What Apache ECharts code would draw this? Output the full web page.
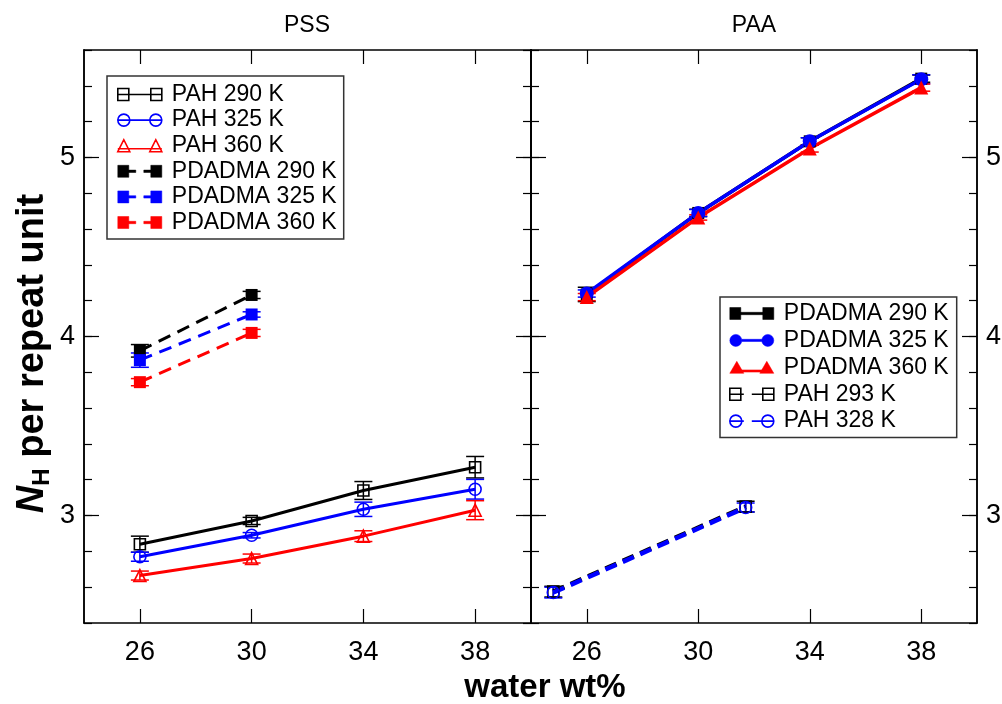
<!DOCTYPE html>
<html>
<head>
<meta charset="utf-8">
<title>NH per repeat unit</title>
<script src="https://cdn.jsdelivr.net/npm/echarts@6/dist/echarts.min.js"></script>
<style>
  html, body { margin: 0; padding: 0; background: #fff; }
  #chart { width: 1002px; height: 704px; }
</style>
</head>
<body>
<div id="chart"></div>
<script>
// PSS panel
var pssWater = [26, 30, 34, 38];
var pssWaterDadma = [26, 30];
var pssPah290 = [2.84, 2.97, 3.14, 3.27];
var pssPah290Err = [0.045, 0.02, 0.05, 0.06];
var pssPah325 = [2.77, 2.89, 3.035, 3.147];
var pssPah325Err = [0.025, 0.015, 0.04, 0.055];
var pssPah360 = [2.665, 2.76, 2.885, 3.03];
var pssPah360Err = [0.025, 0.025, 0.03, 0.053];
var pssDadma290 = [3.92, 4.232];
var pssDadma290Err = [0.035, 0.02];
var pssDadma325 = [3.868, 4.123];
var pssDadma325Err = [0.04, 0.015];
var pssDadma360 = [3.745, 4.02];
var pssDadma360Err = [0.02, 0.02];

// PAA panel
var paaWater = [26, 30, 34, 38];
var paaWaterPah = [24.8, 31.7];
var paaDadma290 = [4.235, 4.69, 5.09, 5.44];
var paaDadma290Err = [0.04, 0.02, 0.02, 0.02];
var paaDadma325 = [4.24, 4.69, 5.09, 5.437];
var paaDadma325Err = [0.02, 0.02, 0.02, 0.025];
var paaDadma360 = [4.22, 4.665, 5.05, 5.39];
var paaDadma360Err = [0.02, 0.015, 0.02, 0.02];
var paaPah293 = [2.575, 3.05];
var paaPah293Err = [0.03, 0.03];
var paaPah328 = [2.57, 3.045];
var paaPah328Err = [0.03, 0.025];

// axes
var xTicks = [26, 30, 34, 38];
var yTicks = [3, 4, 5];

var font = 'Liberation Sans, Arial, Helvetica, sans-serif';
var BLACK = '#000000', BLUE = '#0000ff', RED = '#ff0000';

function zip(xs, ys) {
  return xs.map(function (x, i) { return [x, ys[i]]; });
}

function xAxisFor(grid, pos, showLabel) {
  return {
    type: 'value', gridIndex: grid, position: pos, min: 24, max: 40,
    axisLine: { show: true, onZero: false, lineStyle: { color: '#000', width: 1.5 } },
    axisTick: { inside: true, length: 14, customValues: xTicks, lineStyle: { color: '#000', width: 1.2 } },
    axisLabel: { show: showLabel, customValues: xTicks, fontSize: 27, color: '#000', margin: 16, fontFamily: font },
    splitLine: { show: false }
  };
}

function yAxisFor(grid, pos, major, showLabel) {
  var ax = {
    type: 'value', gridIndex: grid, position: pos, min: 2.4, max: 5.6,
    axisLine: { show: true, onZero: false, lineStyle: { color: '#000', width: 1.5 } },
    axisTick: { inside: true, length: 8, lineStyle: { color: '#000', width: 1.2 } },
    axisLabel: { show: false },
    splitLine: { show: false }
  };
  if (major) {
    ax.axisTick.length = 15;
    ax.axisTick.customValues = yTicks;
    ax.axisLabel = { show: showLabel, customValues: yTicks, fontSize: 27, color: '#000', margin: 9, fontFamily: font };
  } else {
    ax.interval = 0.2;
  }
  return ax;
}

function lineSeries(name, xs, ys, color, symbol, size, filled, dash, width, grid) {
  return {
    type: 'line', name: name, xAxisIndex: grid * 2, yAxisIndex: grid * 4,
    data: zip(xs, ys),
    symbol: symbol, symbolSize: size, showAllSymbol: true,
    lineStyle: { color: color, width: width, type: dash || 'solid' },
    itemStyle: { color: filled ? color : 'rgba(0,0,0,0)', borderColor: color, borderWidth: filled ? 0 : 1.6 },
    emphasis: { disabled: true },
    silent: true, animation: false
  };
}

function errSeries(xs, ys, es, color, grid) {
  return {
    type: 'custom', xAxisIndex: grid * 2, yAxisIndex: grid * 4,
    data: xs.map(function (x, i) { return [x, ys[i], es[i]]; }),
    encode: { x: 0, y: 1 },
    silent: true, animation: false,
    renderItem: function (params, api) {
      var x = api.value(0), y = api.value(1), e = api.value(2);
      var hi = api.coord([x, y + e]);
      var lo = api.coord([x, y - e]);
      var w = 9;
      var st = { stroke: color, lineWidth: 1.5 };
      return {
        type: 'group',
        children: [
          { type: 'line', shape: { x1: hi[0], y1: hi[1], x2: lo[0], y2: lo[1] }, style: st },
          { type: 'line', shape: { x1: hi[0] - w, y1: hi[1], x2: hi[0] + w, y2: hi[1] }, style: st },
          { type: 'line', shape: { x1: lo[0] - w, y1: lo[1], x2: lo[0] + w, y2: lo[1] }, style: st }
        ]
      };
    }
  };
}

// legend icons, 44 x 12
var icOpenSq = 'path://M0,0H11V12H0Z M0,6H44 M33,0H44V12H33Z';
var icOpenCirc = 'path://M0,6A6,6,0,1,1,12,6A6,6,0,1,1,0,6Z M0,6H44 M32,6A6,6,0,1,1,44,6A6,6,0,1,1,32,6Z';
var icOpenTri = 'path://M0,12L6,0L12,12Z M0,9H44 M32,12L38,0L44,12Z';
var icDashSq = 'path://M0,0H11V12H0Z M11,4.8H18V7.2H11Z M26,4.8H33V7.2H26Z M33,0H44V12H33Z';
var icSolidSq = 'path://M0,0H11V12H0Z M11,4.8H33V7.2H11Z M33,0H44V12H33Z';
var icSolidCirc = 'path://M0,6A6,6,0,1,1,12,6A6,6,0,1,1,0,6Z M12,4.9H32V7.1H12Z M32,6A6,6,0,1,1,44,6A6,6,0,1,1,32,6Z';
var icSolidTri = 'path://M0,12L7,0L14,12Z M8,8.6H36V10.8H8Z M30,12L37,0L44,12Z';
var icDashOpenSq = 'path://M0,0H11V12H0Z M0,6H14 M22,6H44 M33,0H44V12H33Z';
var icDashOpenCirc = 'path://M0,6A6,6,0,1,1,12,6A6,6,0,1,1,0,6Z M0,6H14 M22,6H44 M32,6A6,6,0,1,1,44,6A6,6,0,1,1,32,6Z';

function openItem(name, icon, color) {
  return { name: name, icon: icon, itemStyle: { color: 'rgba(0,0,0,0)', borderColor: color, borderWidth: 1.6 } };
}
function filledItem(name, icon, color) {
  return { name: name, icon: icon, itemStyle: { color: color, borderColor: color, borderWidth: 0.5 } };
}

var legendText = { fontSize: 23, color: '#000', fontFamily: font, lineHeight: 22, padding: [0, 0, 0, 5] };

var pssDash = [13, 8];
var paaDash = [12, 7];

var chart = echarts.init(document.getElementById('chart'));
chart.setOption({
  animation: false,
  textStyle: { fontFamily: font },
  title: [
    { text: 'PSS', left: 307, top: 14, textAlign: 'center', padding: 0, textStyle: { fontSize: 23, fontWeight: 'normal', color: '#000' } },
    { text: 'PAA', left: 754, top: 14, textAlign: 'center', padding: 0, textStyle: { fontSize: 23, fontWeight: 'normal', color: '#000' } },
    { text: 'water wt%', left: 545, top: 671, textAlign: 'center', padding: 0, textStyle: { fontSize: 33, fontWeight: 'bold', color: '#000' } }
  ],
  grid: [
    { left: 84, right: 471, top: 50, bottom: 81, outerBoundsMode: 'none' },
    { left: 531, right: 25, top: 50, bottom: 81, outerBoundsMode: 'none' }
  ],
  xAxis: [
    xAxisFor(0, 'bottom', true),
    xAxisFor(0, 'top', false),
    xAxisFor(1, 'bottom', true),
    xAxisFor(1, 'top', false)
  ],
  yAxis: (function () {
    var left0 = yAxisFor(0, 'left', false, false);
    left0.name = '{n|N}{h|H}{r| per repeat unit}';
    left0.nameLocation = 'middle';
    left0.nameRotate = 90;
    left0.nameGap = 30;
    left0.nameTextStyle = {
      color: '#000', fontWeight: 'bold', fontSize: 38, padding: [0, 34, 0, 0],
      rich: {
        n: { fontSize: 38, fontWeight: 'bold', fontStyle: 'italic', lineHeight: 42, color: '#000' },
        h: { fontSize: 24, fontWeight: 'bold', lineHeight: 24, verticalAlign: 'bottom', color: '#000' },
        r: { fontSize: 38, fontWeight: 'bold', lineHeight: 42, color: '#000' }
      }
    };
    return [
      left0,
      yAxisFor(0, 'left', true, true),
      yAxisFor(0, 'right', false, false),
      yAxisFor(0, 'right', true, false),
      yAxisFor(1, 'left', false, false),
      yAxisFor(1, 'left', true, false),
      yAxisFor(1, 'right', false, false),
      yAxisFor(1, 'right', true, true)
    ];
  })(),
  legend: [
    {
      orient: 'vertical', left: 107, top: 76, align: 'left',
      padding: [7, 7, 5, 10], itemGap: 2.6, itemWidth: 44, itemHeight: 12,
      borderColor: '#333', borderWidth: 1.5, backgroundColor: '#fff',
      selectedMode: false, textStyle: legendText,
      data: [
        openItem('PAH 290 K', icOpenSq, BLACK),
        openItem('PAH 325 K', icOpenCirc, BLUE),
        openItem('PAH 360 K', icOpenTri, RED),
        filledItem('PDADMA 290 K', icDashSq, BLACK),
        filledItem('PDADMA 325 K', icDashSq, BLUE),
        filledItem('PDADMA 360 K', icDashSq, RED)
      ]
    },
    {
      orient: 'vertical', left: 720, top: 297, align: 'left',
      padding: [5, 8, 5, 9], itemGap: 3.9, itemWidth: 44, itemHeight: 12,
      borderColor: '#333', borderWidth: 1.5, backgroundColor: '#fff',
      selectedMode: false, textStyle: legendText,
      data: [
        filledItem('PDADMA 290 K', icSolidSq, BLACK),
        filledItem('PDADMA 325 K', icSolidCirc, BLUE),
        filledItem('PDADMA 360 K', icSolidTri, RED),
        openItem('PAH 293 K', icDashOpenSq, BLACK),
        openItem('PAH 328 K', icDashOpenCirc, BLUE)
      ]
    }
  ],
  series: [
    // PSS
    errSeries(pssWater, pssPah290, pssPah290Err, BLACK, 0),
    lineSeries('PAH 290 K', pssWater, pssPah290, BLACK, 'rect', 11, false, null, 3, 0),
    errSeries(pssWater, pssPah325, pssPah325Err, BLUE, 0),
    lineSeries('PAH 325 K', pssWater, pssPah325, BLUE, 'circle', 12, false, null, 3, 0),
    errSeries(pssWater, pssPah360, pssPah360Err, RED, 0),
    lineSeries('PAH 360 K', pssWater, pssPah360, RED, 'triangle', 12, false, null, 3, 0),
    errSeries(pssWaterDadma, pssDadma290, pssDadma290Err, BLACK, 0),
    lineSeries('PDADMA 290 K', pssWaterDadma, pssDadma290, BLACK, 'rect', 12, true, pssDash, 3, 0),
    errSeries(pssWaterDadma, pssDadma325, pssDadma325Err, BLUE, 0),
    lineSeries('PDADMA 325 K', pssWaterDadma, pssDadma325, BLUE, 'rect', 12, true, pssDash, 3, 0),
    errSeries(pssWaterDadma, pssDadma360, pssDadma360Err, RED, 0),
    lineSeries('PDADMA 360 K', pssWaterDadma, pssDadma360, RED, 'rect', 12, true, pssDash, 3, 0),
    // PAA
    errSeries(paaWater, paaDadma290, paaDadma290Err, BLACK, 1),
    lineSeries('PDADMA 290 K', paaWater, paaDadma290, BLACK, 'rect', 12, true, null, 3.5, 1),
    errSeries(paaWater, paaDadma325, paaDadma325Err, BLUE, 1),
    lineSeries('PDADMA 325 K', paaWater, paaDadma325, BLUE, 'circle', 14, true, null, 3.5, 1),
    errSeries(paaWater, paaDadma360, paaDadma360Err, RED, 1),
    lineSeries('PDADMA 360 K', paaWater, paaDadma360, RED, 'triangle', 14, true, null, 3.5, 1),
    errSeries(paaWaterPah, paaPah293, paaPah293Err, BLACK, 1),
    lineSeries('PAH 293 K', paaWaterPah, paaPah293, BLACK, 'rect', 11, false, paaDash, 4.5, 1),
    errSeries(paaWaterPah, paaPah328, paaPah328Err, BLUE, 1),
    lineSeries('PAH 328 K', paaWaterPah, paaPah328, BLUE, 'circle', 12, false, paaDash, 4.5, 1)
  ]
});
</script>
</body>
</html>
